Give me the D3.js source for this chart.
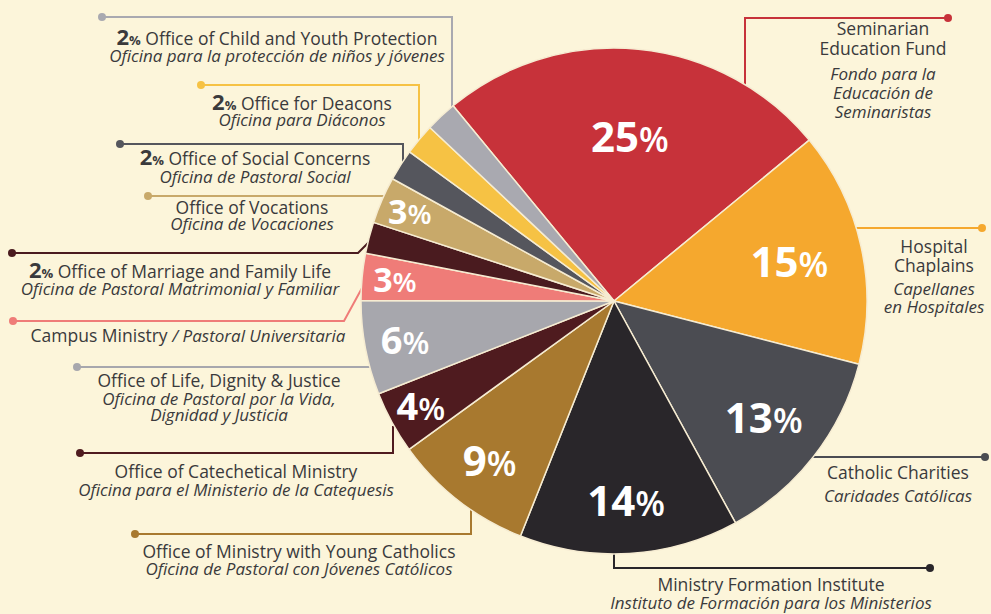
<!DOCTYPE html>
<html>
<head>
<meta charset="utf-8">
<script src="https://cdn.jsdelivr.net/npm/d3@7"></script>
<style>
  html, body { margin: 0; padding: 0; background: #fcf5da; }
  svg { display: block; font-family: "Open Sans", sans-serif; }
</style>
</head>
<body>
<svg id="chart" width="991" height="614"></svg>
<script>
// slices, clockwise from the top
const names = [
  "Seminarian\nEducation Fund",
  "Hospital\nChaplains",
  "Catholic Charities",
  "Ministry Formation Institute",
  "Office of Ministry with Young Catholics",
  "Office of Catechetical Ministry",
  "Office of Life, Dignity & Justice",
  "Campus Ministry",
  "Office of Marriage and Family Life",
  "Office of Vocations",
  "Office of Social Concerns",
  "Office for Deacons",
  "Office of Child and Youth Protection"
];
const namesEs = [
  "Fondo para la\nEducación de\nSeminaristas",
  "Capellanes\nen Hospitales",
  "Caridades Católicas",
  "Instituto de Formación para los Ministerios",
  "Oficina de Pastoral con Jóvenes Católicos",
  "Oficina para el Ministerio de la Catequesis",
  "Oficina de Pastoral por la Vida,\nDignidad y Justicia",
  "Pastoral Universitaria",
  "Oficina de Pastoral Matrimonial y Familiar",
  "Oficina de Vocaciones",
  "Oficina de Pastoral Social",
  "Oficina para Diáconos",
  "Oficina para la protección de niños y jóvenes"
];
const shares = [25, 15, 13, 14, 9, 4, 6, 3, 2, 3, 2, 2, 2];
const colors = ["#c7323a", "#f5a82e", "#4b4c52", "#29262a", "#a8792f", "#4f1b1f", "#a7a7ad",
                "#ef7c78", "#4a1b1f", "#c8a96a", "#55565d", "#f6c244", "#a9a9b0"];

// hand placed callouts: text centre x, baselines, label radius, leader path
const layout = [
  {x: 883, en: [35, 55], es: [80, 99, 118], lr: .65, leader: [[948, 18], [745, 18], [745, 90]]},
  {x: 934, en: [253, 272], es: [295, 313], lr: .71, leader: [[982, 228], [850, 228]]},
  {x: 898, en: [479], es: [502], lr: .75, leader: [[985, 457], [805, 457]]},
  {x: 771, en: [591], es: [609], lr: .79, leader: [[930, 568], [614, 568], [614, 548]]},
  {x: 299, en: [558], es: [575], lr: .80, leader: [[135, 534], [471, 534], [471, 504]]},
  {x: 236, en: [478], es: [496], lr: .87, leader: [[80, 453], [393, 453], [393, 426]]},
  {x: 219, en: [387], es: [405, 421], lr: .84, leader: [[77, 367], [374, 367]]},
  {x: 188, inline: 342, lr: .87, leader: [[13, 321], [344, 321], [362, 288]]},
  {x: 180, en: [278], es: [295], leader: [[12, 253], [358, 253], [370, 241]]},
  {x: 252, en: [214], es: [230], lr: .88, leader: [[148, 196], [387, 196]]},
  {x: 255, en: [165], es: [183], leader: [[120, 144], [403, 144], [403, 164]]},
  {x: 302, en: [110], es: [126], leader: [[201, 85], [419, 85], [419, 142]]},
  {x: 277, en: [45], es: [62], leader: [[102, 17], [452, 17], [452, 109]]}
];

const svg = d3.select("#chart");
const cx = 614, cy = 301, radius = 253;
const startAngle = -39.5 * Math.PI / 180;
const textColor = "#3a3a3c";

const slices = d3.pie().sort(null).value(d => d)
  .startAngle(startAngle).endAngle(startAngle + 2 * Math.PI)(shares);

// leaders go under the pie
const leaders = svg.append("g").attr("class", "leaders");
layout.forEach((l, i) => {
  leaders.append("path")
    .attr("d", d3.line()(l.leader))
    .attr("fill", "none")
    .attr("stroke", colors[i])
    .attr("stroke-width", 2);
  leaders.append("circle")
    .attr("cx", l.leader[0][0]).attr("cy", l.leader[0][1])
    .attr("r", 4).attr("fill", colors[i]);
});

const arc = d3.arc().innerRadius(0).outerRadius(radius);
const pie = svg.append("g").attr("transform", `translate(${cx},${cy})`);
pie.selectAll("path")
  .data(slices)
  .join("path")
    .attr("d", arc)
    .attr("fill", (d, i) => colors[i])
    .attr("stroke", "#f6ecd2")
    .attr("stroke-width", 1.5)
    .attr("stroke-linejoin", "round");

// percent labels inside the slices
const pctSize = v => v >= 9 ? 42 : v >= 4 ? 38 : 34;
pie.selectAll("text")
  .data(slices.filter(d => d.value > 2))
  .join("text")
    .each(function (d) {
      const i = d.index;
      const a = (d.startAngle + d.endAngle) / 2;
      const r = radius * layout[i].lr;
      const fs = pctSize(d.value);
      const t = d3.select(this)
        .attr("x", r * Math.sin(a))
        .attr("y", -r * Math.cos(a) + fs * 0.36)
        .attr("text-anchor", "middle")
        .attr("fill", "#fff");
      t.append("tspan").attr("font-weight", 700).attr("font-size", fs).text(d.value);
      t.append("tspan").attr("font-weight", 600).attr("font-size", fs * 0.82).text("%");
    });

// callout text
const labels = svg.append("g").attr("fill", textColor).attr("font-size", 17.5);
layout.forEach((l, i) => {
  if (l.inline) {
    const t = labels.append("text").attr("x", l.x).attr("y", l.inline).attr("text-anchor", "middle");
    t.append("tspan").text(names[i] + "  ");
    t.append("tspan").attr("font-style", "italic").attr("font-size", 17).text("/ " + namesEs[i]);
    return;
  }
  names[i].split("\n").forEach((line, k) => {
    const t = labels.append("text").attr("x", l.x).attr("y", l.en[k]).attr("text-anchor", "middle");
    if (k === 0 && shares[i] === 2) {
      t.append("tspan").attr("font-weight", 700).attr("font-size", 22).text(shares[i]);
      t.append("tspan").attr("font-weight", 700).attr("font-size", 13).text("%");
      t.append("tspan").text(" " + line);
    } else {
      t.text(line);
    }
  });
  namesEs[i].split("\n").forEach((line, k) => {
    labels.append("text")
      .attr("x", l.x).attr("y", l.es[k])
      .attr("text-anchor", "middle")
      .attr("font-style", "italic")
      .attr("font-size", 17)
      .text(line);
  });
});
</script>
</body>
</html>
